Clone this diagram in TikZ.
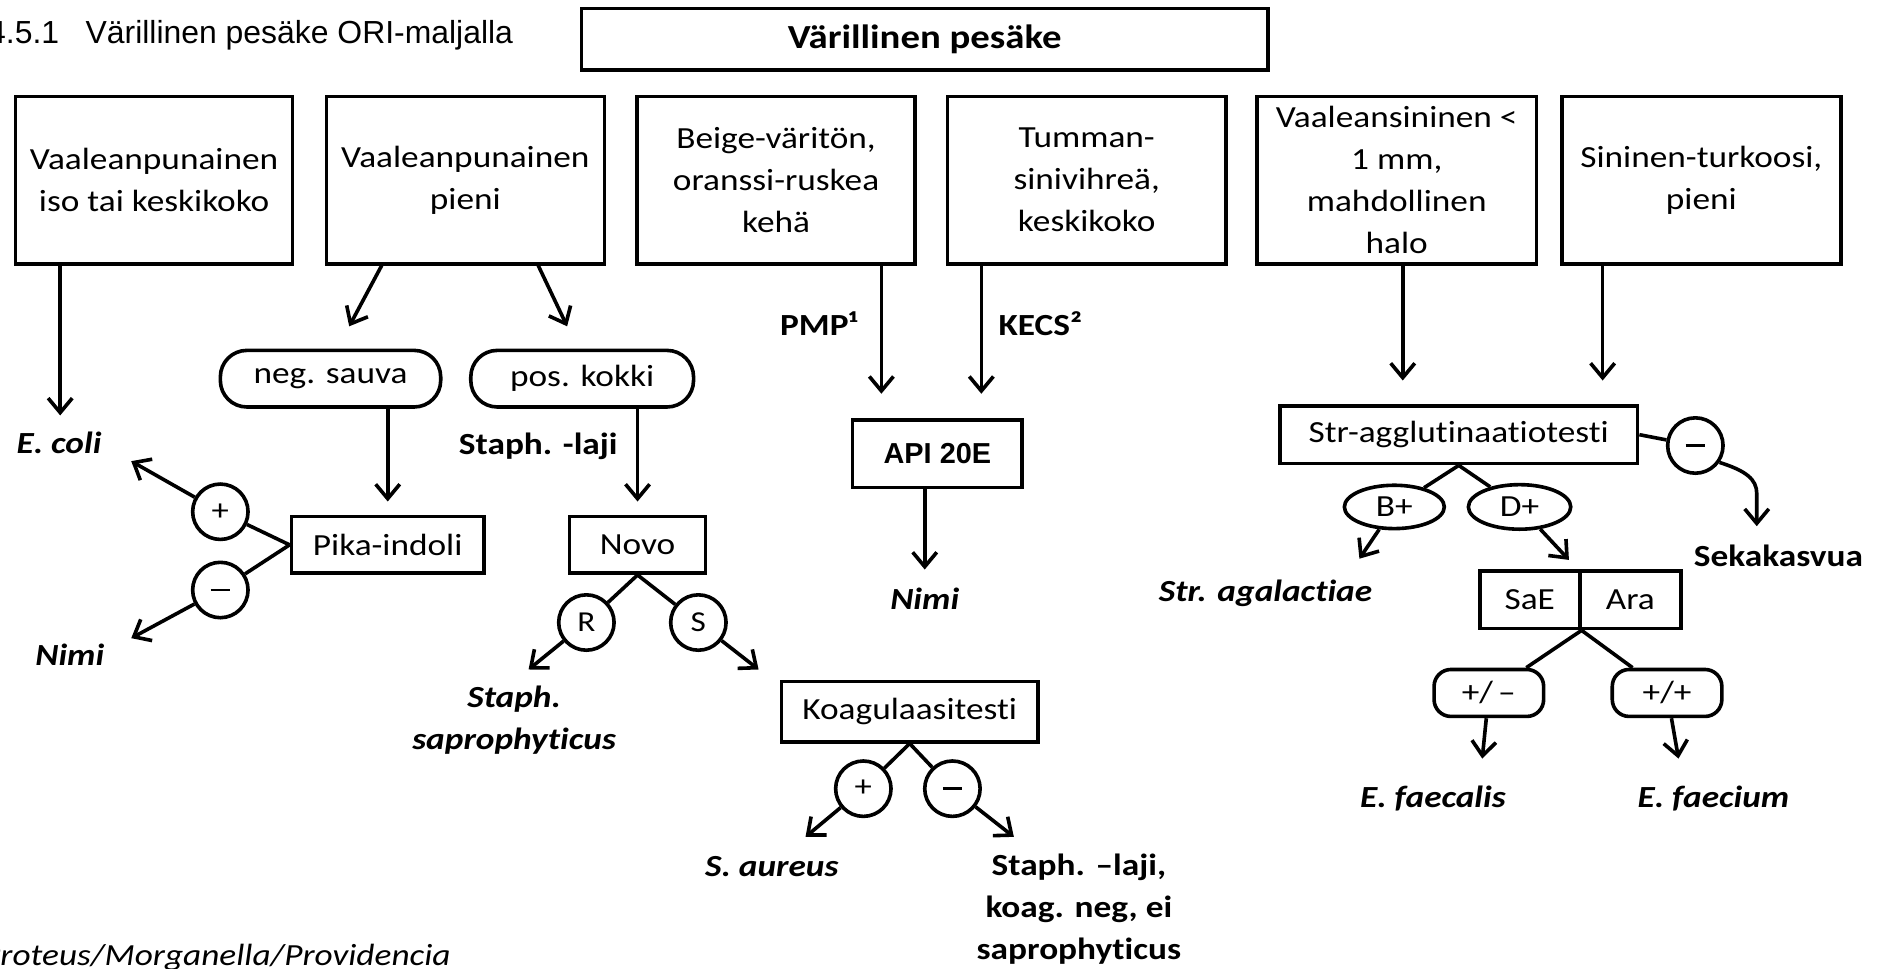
\documentclass[tikz,border=0pt]{standalone}
\usepackage{fontspec}
\setmainfont{Carlito}[FakeStretch=1.15,Ligatures=NoCommon]
\newfontfamily\arialfont{Liberation Sans}
\usetikzlibrary{arrows.meta,shapes.geometric,calc}
\newcommand{\minusbar}{\rule{16pt}{2.4pt}}
\begin{document}
\begin{tikzpicture}[x=1pt,y=-1pt,
  every node/.style={font=\fontsize{25.5}{35}\selectfont, inner sep=0pt},
  box/.style={draw, line width=3pt, align=center},
  pill/.style={draw, line width=3pt, rounded corners=22pt},
  rpill/.style={draw, line width=3pt, rounded corners=14pt},
  circ/.style={draw, circle, line width=3pt, minimum size=46pt},
  oval/.style={draw, ellipse, line width=3pt},
  conn/.style={line width=3pt},
  arr/.style={line width=3pt, -{Straight Barb[length=12pt,width=20pt]}},
  bi/.style={font=\fontsize{25.5}{35}\selectfont\bfseries\itshape},
  bo/.style={font=\fontsize{25.5}{35}\selectfont\bfseries},
  sign/.style={circ, font=\fontsize{25}{26}\selectfont},
]
\useasboundingbox (0,0) rectangle (1568,804);

% title
\node[anchor=base west, font=\arialfont\fontsize{26.5}{30}\selectfont] (title) at (-10,36) {4.5.1\hspace{22pt}Värillinen pesäke ORI-maljalla};
\node[box, minimum width=570pt, minimum height=51pt, font=\fontsize{28}{35}\selectfont\bfseries] (top) at (768,32.5) {Värillinen pesäke};

% top row boxes
\node[box, minimum width=230pt, minimum height=139pt] (b1) at (128,149.5) {Vaaleanpunainen\\iso tai keskikoko};
\node[box, minimum width=231pt, minimum height=139pt] (b2) at (386.5,149.5) {Vaaleanpunainen\\pieni};
\node[box, minimum width=231pt, minimum height=139pt] (b3) at (644.5,149.5) {Beige-väritön,\\oranssi-ruskea\\kehä};
\node[box, minimum width=231pt, minimum height=139pt] (b4) at (902.5,149.5) {Tumman-\\sinivihreä,\\keskikoko};
\node[box, minimum width=232pt, minimum height=139pt] (b5) at (1160,149.5) {Vaaleansininen <\\1 mm,\\mahdollinen\\halo};
\node[box, minimum width=232pt, minimum height=139pt] (b6) at (1413,149.5) {Sininen-turkoosi,\\pieni};

% column 1
\coordinate (ecoliTip) at (50,345);
\draw[arr] (ecoliTip |- b1.south) -- (ecoliTip);
\node[bi] (ecoli) at (49,368) {E. coli};

% column 2
\node[pill, minimum width=183pt, minimum height=47pt] (neg) at (274.5,314.5) {neg. sauva};
\node[pill, minimum width=185pt, minimum height=47pt] (pos) at (483.5,314.5) {pos. kokki};
\coordinate (b2a) at ($(b2.south)+(-69.5,0)$);
\coordinate (b2b) at ($(b2.south)+(60.5,0)$);
\coordinate (negTip) at (290,271);
\coordinate (posTip) at (471,271);
\draw[arr] (b2a) -- (negTip);
\draw[arr] (b2b) -- (posTip);

\node[box, minimum width=160pt, minimum height=47pt] (pika) at (322,452.5) {Pika-indoli};
\node[box, minimum width=113pt, minimum height=47pt] (novo) at (529.5,452.5) {Novo};
\draw[arr, shorten >=11pt] (neg.south -| pika.north) -- (pika.north);
\draw[arr, shorten >=11pt] (pos.south -| novo.north) -- (novo.north);
\node[bo] (staphlaji) at (447,371) {Staph. -laji};

\node[sign] (p1) at (183,425) {+};
\node[sign] (m1) at (183,490) {\minusbar};
\coordinate (p1tip) at (109,383);
\coordinate (m1tip) at (109,530);
\draw[conn] (pika.west) -- (p1);
\draw[conn] (pika.west) -- (m1);
\draw[arr] (p1) -- (p1tip);
\draw[arr] (m1) -- (m1tip);
\node[bi] (nimi1) at (58,544) {Nimi};

\node[circ, font=\fontsize{24}{29}\selectfont] (rr) at (487,517) {R};
\node[circ, font=\fontsize{24}{29}\selectfont] (ss) at (580,517) {S};
\coordinate (rtip) at (439,556);
\coordinate (stip) at (630,556);
\draw[conn] (novo.south) -- (rr);
\draw[conn] (novo.south) -- (ss);
\draw[arr] (rr) -- (rtip);
\draw[arr] (ss) -- (stip);
\node[bi, align=center] (ssap) at (427,598) {Staph.\\saprophyticus};

\node[box, minimum width=213pt, minimum height=50pt] (koag) at (755.5,591) {Koagulaasitesti};
\node[sign] (p2) at (717,655) {+};
\node[sign] (m2) at (791,655) {\minusbar};
\coordinate (p2tip) at (669,695);
\coordinate (m2tip) at (842,695);
\draw[conn] (koag.south) -- (p2);
\draw[conn] (koag.south) -- (m2);
\draw[arr] (p2) -- (p2tip);
\draw[arr] (m2) -- (m2tip);
\node[bi] (saur) at (641,720) {S. aureus};
\node[bo, align=center] (scn) at (896,755) {Staph. –laji,\\koag. neg, ei\\saprophyticus};

% API column
\node[box, minimum width=141pt, minimum height=56pt, font=\arialfont\fontsize{24}{26}\selectfont\bfseries] (api) at (778.5,377) {API 20E};
\coordinate (apiL) at (732,327);
\coordinate (apiR) at (815,327);
\draw[arr] (apiL |- b3.south) -- (apiL);
\draw[arr] (apiR |- b4.south) -- (apiR);
\node[bo] (pmp) at (680,269) {PMP¹};
\node[bo] (kecs) at (864,269) {KECS²};
\coordinate (nimiTip) at (768,473);
\draw[arr] (nimiTip |- api.south) -- (nimiTip);
\node[bi] (nimi2) at (768,497) {Nimi};

% right part
\node[box, minimum width=297pt, minimum height=48pt] (str) at (1211.5,361) {Str-agglutinaatiotesti};
\coordinate (strL) at (1165,316);
\coordinate (strR) at (1331,316);
\draw[arr] (strL |- b5.south) -- (strL);
\draw[arr] (strR |- b6.south) -- (strR);

\node[sign] (m3) at (1408,370) {\minusbar};
\draw[conn] (str.east) -- (m3);
\coordinate (sekMid) at (1459,410);
\coordinate (sekTip) at (1459,437);
\draw[arr] (m3.-35) .. controls (1450,391) and (1459,398) .. (sekMid) -- (sekTip);
\node[bo] (seka) at (1477,462) {Sekakasvua};

\node[oval, minimum width=83pt, minimum height=36pt] (bp) at (1158,421) {B+};
\node[oval, minimum width=85pt, minimum height=37pt] (dp) at (1262,421) {D+};
\draw[conn] (str.south) -- (bp);
\draw[conn] (str.south) -- (dp);
\coordinate (bptip) at (1129,464);
\coordinate (dptip) at (1303,465);
\draw[arr] (bp) -- (bptip);
\draw[arr] (dp) -- (dptip);
\node[bi] (stra) at (1051,493) {Str. agalactiae};

\node[box, minimum width=83pt, minimum height=48pt] (sae) at (1270.5,498) {SaE};
\node[box, minimum width=84pt, minimum height=48pt] (ara) at (1354,498) {Ara};
\node[rpill, minimum width=91pt, minimum height=39pt] (pm) at (1236.5,575.5) {+/\,–};
\node[rpill, minimum width=91pt, minimum height=39pt] (pp) at (1384.5,575.5) {+/+};
\draw[conn] (sae.south east) -- (pm);
\draw[conn] (sae.south east) -- (pp);
\coordinate (pmtip) at (1231,630);
\coordinate (pptip) at (1394,630);
\draw[arr] (pm) -- (pmtip);
\draw[arr] (pp) -- (pptip);
\node[bi] (efs) at (1190,663) {E. faecalis};
\node[bi] (efm) at (1423,663) {E. faecium};

% bottom text
\node[anchor=base west, font=\fontsize{25.5}{35}\selectfont\itshape] (prot) at (-15,802) {Proteus/Morganella/Providencia};
\end{tikzpicture}
\end{document}
